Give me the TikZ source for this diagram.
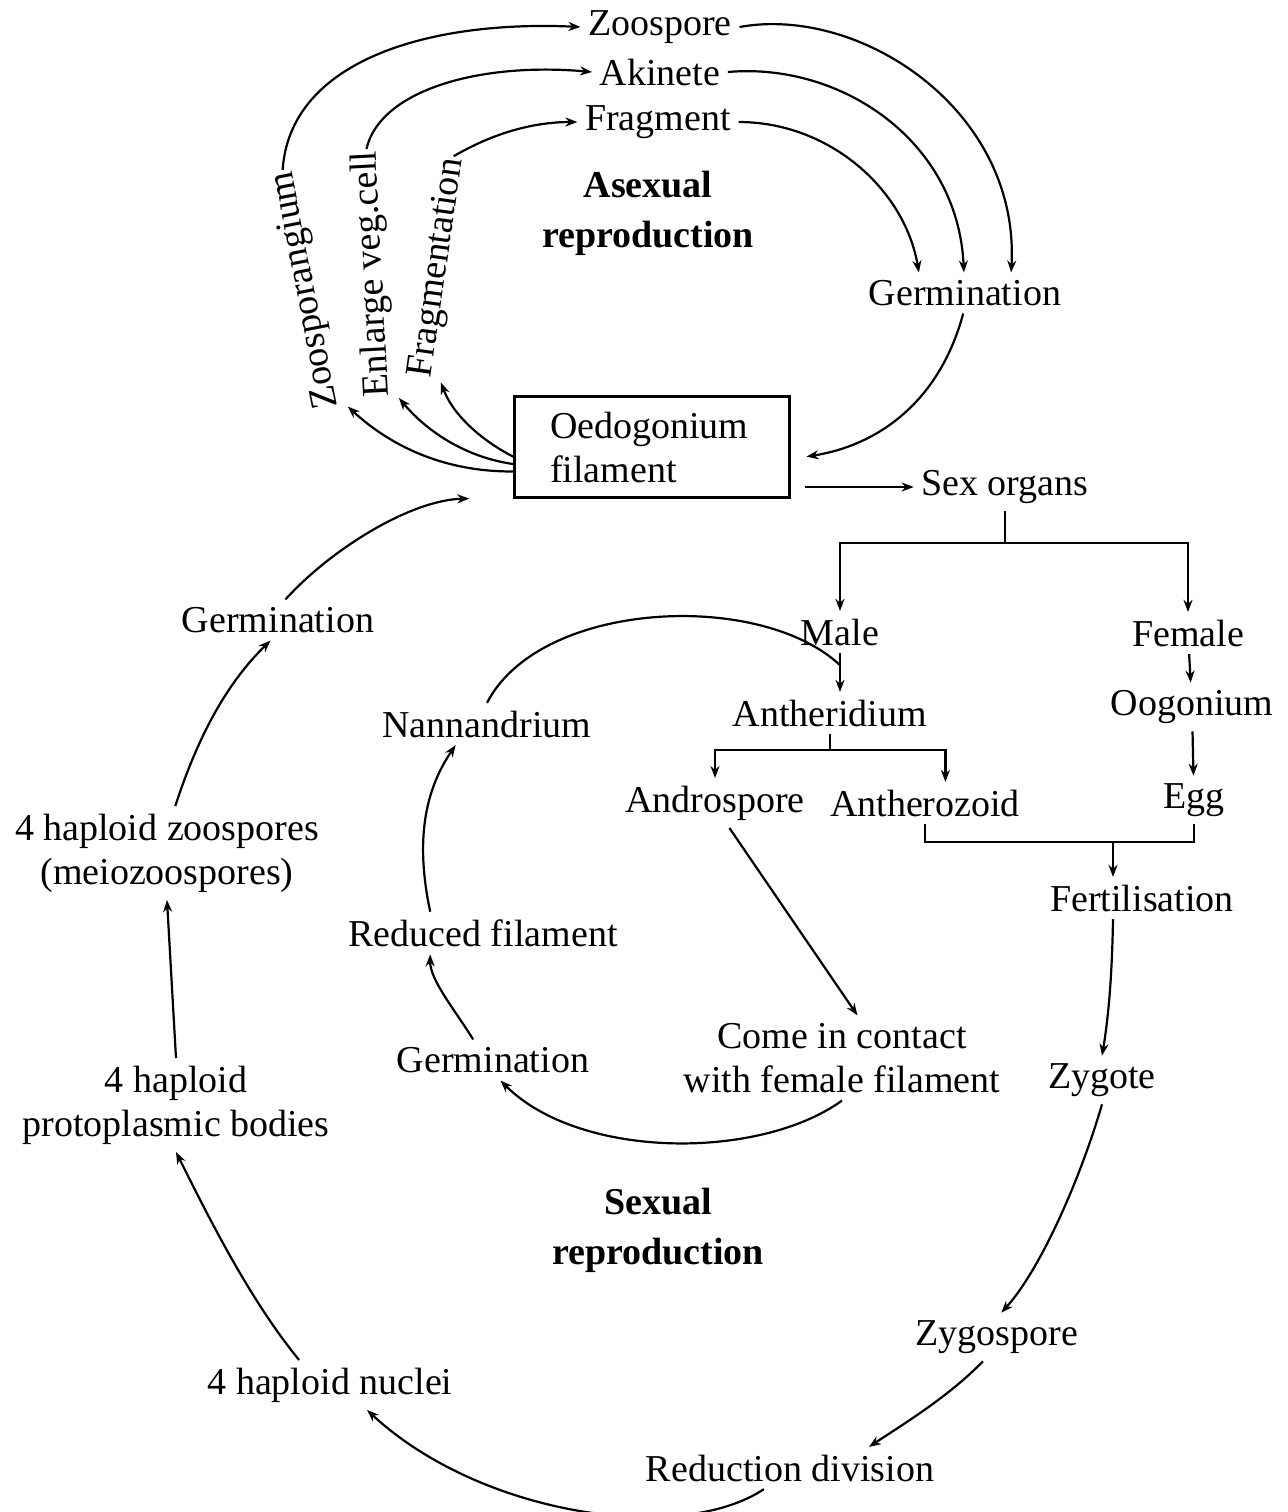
\documentclass[tikz,border=0pt]{standalone}
\usepackage{fontspec}
\setmainfont{Liberation Serif}
\usepackage{tikz}
\usetikzlibrary{arrows.meta}

\begin{document}
\begin{tikzpicture}[x=0.5pt,y=-0.5pt,>={Stealth[length=6pt,width=4.5pt]},line width=1.1pt,
		every node/.style={font=\fontsize{19}{22}\selectfont,align=center},
		bold/.style={font=\fontsize{19}{25}\selectfont\bfseries},
		arclabel/.style={inner sep=0.5pt}]
	\useasboundingbox (0,0) rectangle (1287,1512);

	\node (zoo) at (660,27) {Zoospore};
	\node (aki) at (660,72) {Akinete};
	\node (frag) at (658,122) {Fragment};
	\node [bold] (asex) at (648,213) {Asexual\\reproduction};
	\node (germA) at (965,293) {Germination};
	\node [draw,line width=1.2pt,minimum width=137.5pt,minimum height=50.5pt,
		text width=102pt,inner xsep=17.75pt,align=left] (fil) at (652,447) {Oedogonium\\filament};
	\node [arclabel,rotate=101] (zsp) at (306,290) {Zoosporangium};
	\node [arclabel,rotate=93] (enl) at (373,274) {Enlarge veg.cell};
	\node [arclabel,rotate=82] (fmt) at (438,268) {Fragmentation};

	\node (sex) at (1005,487) {Sex organs};
	\node (male) at (840,632) {Male};
	\node (female) at (1188,633) {Female};
	\node (oog) at (1192,707) {Oogonium};
	\node (egg) at (1194,800) {Egg};
	\node (anth) at (830,713) {Antheridium};
	\node (andro) at (715,803) {Androspore};
	\node (azoid) at (925,803) {Antherozoid};
	\node (fert) at (1142,898) {Fertilisation};
	\node (zyg) at (1102,1080) {Zygote};
	\node (zspore) at (997,1337) {Zygospore};
	\node (redu) at (790,1468) {Reduction division};
	\node (nuc) at (330,1385) {4 haploid nuclei};
	\node (proto) at (176,1105) {4 haploid\\protoplasmic bodies};
	\node (mzoo) at (167,853) {4 haploid zoospores\\(meiozoospores)};
	\node (germB) at (278,620) {Germination};

	\node (nann) at (487,724) {Nannandrium};
	\node (redfil) at (483,933) {Reduced filament};
	\node (germC) at (493,1060) {Germination};
	\node (contact) at (842,1058) {Come in contact\\with female filament};
	\node [bold] (sexr) at (658,1230) {Sexual\\reproduction};

	\coordinate (sexbar) at (1008,543);
	\coordinate (anthbar) at (822,750);
	\coordinate (fertbar) at (1113,842);

	\draw [->] (fil.190) .. controls (450,472) and (395,450) .. (zsp.south west);
	\draw [->] (fil.187) .. controls (470,458) and (430,435) .. (enl.south west);
	\draw [->] (fil.184) .. controls (490,445) and (455,420) .. (fmt.south west);
	\draw [->] (zsp.east) .. controls (290,60) and (430,20) .. (zoo.west);
	\draw [->] (enl.east) .. controls (380,90) and (480,62) .. (aki.west);
	\draw [->] (fmt.east) .. controls (490,135) and (530,122) .. (frag.west);
	\draw [->] (zoo.east) .. controls (860,5) and (1020,110) .. (germA.24);
	\draw [->] (aki.east) .. controls (840,62) and (958,140) .. (germA.93);
	\draw [->] (frag.east) .. controls (830,122) and (905,190) .. (germA.156);
	\draw [->,shorten >=8pt] (germA.265) .. controls (940,400) and (880,445) .. (fil.-5);
	\draw [->,shorten <=7pt] (fil.east |- sex.west) -- (sex.west);

	\draw (sex.south) -- (sex.south |- sexbar);
	\draw [->] (sex.south |- sexbar) -| (male.north);
	\draw [->] (sex.south |- sexbar) -| (female.north);
	\draw [->] (female) -- (oog);
	\draw [->] (oog) -- (egg);
	\draw [->] (male.south) -- (male.south |- anth.north);
	\draw (nann.north) .. controls (540,600) and (760,590) .. ([yshift=-6pt]male.south);
	\draw (anth.south) -- (anth.south |- anthbar);
	\draw [->] (anth.south |- anthbar) -| (andro.north);
	\draw [->] (anth.south |- anthbar) -| (azoid.46);
	\draw (azoid.south) |- (fertbar) -| (egg.south);
	\draw [->] (fertbar) -- (fertbar |- fert.north);
	\draw [->] (fertbar |- fert.south) .. controls (1112,980) and (1108,1020) .. (zyg.north);
	\draw [->] (zyg.south) .. controls (1080,1180) and (1040,1270) .. (zspore.80);
	\draw [->] (zspore.240) .. controls (950,1395) and (910,1420) .. (redu.15);
	\draw [->] (redu.219) .. controls (680,1545) and (480,1515) .. (nuc.-34);
	\draw [->] (nuc.141) .. controls (250,1300) and (210,1220) .. (proto.south);
	\draw [->] (proto.north) -- (mzoo.south);
	\draw [->] (mzoo.80) .. controls (200,730) and (230,680) .. (germB.250);
	\draw [->,shorten >=22pt] (germB.70) .. controls (330,550) and (410,500) .. (fil.200);

	\draw [->] (andro.-60) -- (contact.70);
	\draw [->] (contact.south) .. controls (760,1160) and (580,1160) .. (germC.290);
	\draw [->] (germC.134) .. controls (455,1010) and (430,980) .. (redfil.202);
	\draw [->] (redfil.158) .. controls (415,840) and (425,790) .. (nann.214);
\end{tikzpicture}
\end{document}
